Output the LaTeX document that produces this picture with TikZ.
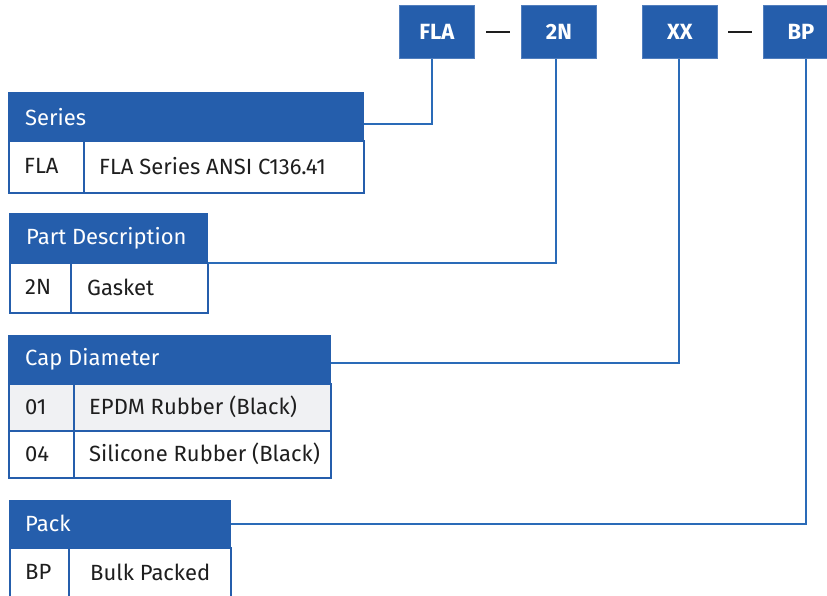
\documentclass[tikz,border=0pt]{standalone}
\usepackage{fontspec}
\setmainfont{Fira Sans}
\definecolor{hblue}{HTML}{255EAC}
\definecolor{cblue}{HTML}{2A6BB8}
\definecolor{rgray}{HTML}{F0F1F3}
\definecolor{txt}{HTML}{1E1E1E}
\begin{document}
\begin{tikzpicture}[x=1pt,y=-1pt,
  topbox/.style={fill=hblue,draw=hblue!80!white,line width=0.8pt,minimum width=75pt,minimum height=53pt,anchor=north west,inner sep=0pt,text=white,font=\fontsize{22}{26}\selectfont\bfseries},
  hdr/.style={fill=hblue,draw=hblue,line width=1.2pt,anchor=north west,inner sep=0pt},
  cell/.style={fill=white,draw=hblue,line width=1.5pt,anchor=north west,inner sep=0pt},
  htext/.style={anchor=west,inner sep=0pt,text=white,font=\fontsize{22}{26}\selectfont},
  ctext/.style={anchor=west,inner sep=0pt,text=txt,font=\fontsize{22}{26}\selectfont},
  conn/.style={draw=cblue,line width=2pt},
  dashline/.style={draw=txt,line width=2.2pt}]
\useasboundingbox (0,0) rectangle (827,595);
% top code boxes
\node[topbox] (fla) at (399,5) {FLA};
\node[topbox] (n2) at (521,5) {2N};
\node[topbox] (xx) at (642,5) {XX};
\node[topbox] (bp) at (763,5) {BP};
\coordinate (d1a) at (486,32); \coordinate (d1b) at (510,32);
\coordinate (d2a) at (728,32); \coordinate (d2b) at (752,32);
\draw[dashline] (d1a) -- (d1b);
\draw[dashline] (d2a) -- (d2b);
% Series
\node[hdr,minimum width=355pt,minimum height=48pt] (serH) at (8,92) {};
\node[htext] (serT) at (25,117) {Series};
\node[cell,minimum width=75pt,minimum height=52pt] (serC1) at (8,140) {};
\node[cell,minimum width=280pt,minimum height=52pt] (serC2) at (83,140) {};
\node[ctext] (serA) at (24,166) {FLA};
\node[ctext] (serB) at (99,166) {FLA Series ANSI C136.41};
% Part Description
\node[hdr,minimum width=198pt,minimum height=49pt] (pdH) at (9,213) {};
\node[htext] (pdT) at (26,238) {Part Description};
\node[cell,minimum width=61pt,minimum height=50pt] (pdC1) at (9,262) {};
\node[cell,minimum width=137pt,minimum height=50pt] (pdC2) at (70,262) {};
\node[ctext] (pdA) at (25,287) {2N};
\node[ctext] (pdB) at (87,287) {Gasket};
% Cap Diameter
\node[hdr,minimum width=322pt,minimum height=48pt] (cdH) at (8,335) {};
\node[htext] (cdT) at (25,359) {Cap Diameter};
\node[cell,fill=rgray,minimum width=65pt,minimum height=47pt] (cdC1) at (8,383) {};
\node[cell,fill=rgray,minimum width=257pt,minimum height=47pt] (cdC2) at (73,383) {};
\node[cell,minimum width=65pt,minimum height=47pt] (cdC3) at (8,430) {};
\node[cell,minimum width=257pt,minimum height=47pt] (cdC4) at (73,430) {};
\node[ctext] (cdA) at (25,407) {01};
\node[ctext] (cdB) at (89,407) {EPDM Rubber (Black)};
\node[ctext] (cdC) at (25,454) {04};
\node[ctext] (cdD) at (89,454) {Silicone Rubber (Black)};
% Pack
\node[hdr,minimum width=221pt,minimum height=47pt] (pkH) at (9,500) {};
\node[htext] (pkT) at (25,523) {Pack};
\node[cell,minimum width=59pt,minimum height=50pt] (pkC1) at (9,547) {};
\node[cell,minimum width=162pt,minimum height=50pt] (pkC2) at (68,547) {};
\node[ctext] (pkA) at (25,572) {BP};
\node[ctext] (pkB) at (90,572) {Bulk Packed};
% connectors
\draw[conn] ([yshift=-7pt]serH.east) -| ([xshift=-4.5pt]fla.south);
\draw[conn] (pdH.south east) -| ([xshift=-2.5pt]n2.south);
\draw[conn] ([yshift=-3pt]cdH.east) -| ([xshift=-0.5pt]xx.south);
\draw[conn] (pkH.east) -| ([xshift=5.5pt]bp.south);
\end{tikzpicture}
\end{document}
